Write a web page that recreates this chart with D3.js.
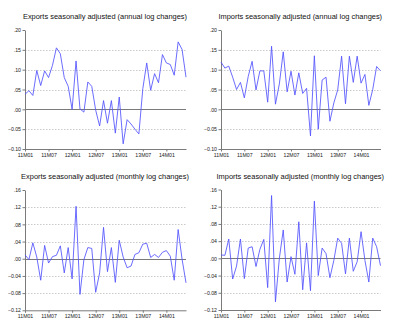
<!DOCTYPE html>
<html>
<head>
<meta charset="utf-8">
<script src="https://cdn.jsdelivr.net/npm/d3@7"></script>
<style>
  body { margin: 0; background: #fff; }
  svg { display: block; }
  text { font-family: "Liberation Sans", Arial, sans-serif; }
</style>
</head>
<body>
<svg id="chart" width="400" height="332"></svg>
<script>
// Monthly periods, 2011M01 .. 2014M06
const periods = [
  "11M01","11M02","11M03","11M04","11M05","11M06","11M07","11M08","11M09","11M10","11M11","11M12",
  "12M01","12M02","12M03","12M04","12M05","12M06","12M07","12M08","12M09","12M10","12M11","12M12",
  "13M01","13M02","13M03","13M04","13M05","13M06","13M07","13M08","13M09","13M10","13M11","13M12",
  "14M01","14M02","14M03","14M04","14M05","14M06"
];
const xTickLabels = ["11M01","11M07","12M01","12M07","13M01","13M07","14M01"];

// Seasonally adjusted log changes
const exportsAnnual = [
  0.038, 0.047, 0.035, 0.098, 0.060, 0.097, 0.080, 0.111, 0.155, 0.140, 0.080, 0.058,
  0.000, 0.122, 0.001, -0.007, 0.069, 0.058, -0.002, -0.042, 0.022, -0.035, 0.022, -0.060,
  0.031, -0.087, -0.026, -0.037, -0.050, -0.062, 0.052, 0.117, 0.048, 0.090, 0.067, 0.138,
  0.117, 0.113, 0.086, 0.170, 0.151, 0.081
];
const importsAnnual = [
  0.119, 0.104, 0.109, 0.081, 0.050, 0.068, 0.029, 0.083, 0.121, 0.049, 0.097, 0.097,
  0.018, 0.159, 0.013, 0.064, 0.145, 0.044, 0.096, 0.036, 0.092, 0.040, 0.053, -0.067,
  0.135, -0.050, 0.074, 0.081, -0.030, 0.016, 0.049, 0.134, 0.014, 0.134, 0.068, 0.134,
  0.066, 0.088, 0.010, 0.050, 0.108, 0.097
];
const exportsMonthly = [
  0.009, -0.002, 0.037, 0.004, -0.050, 0.031, -0.010, 0.005, 0.008, 0.030, -0.033, 0.026,
  -0.047, 0.122, -0.083, -0.002, 0.026, 0.024, -0.078, -0.033, 0.073, -0.030, 0.026, -0.055,
  0.043, 0.004, -0.021, -0.017, 0.010, 0.014, 0.034, 0.036, 0.003, 0.010, 0.003, 0.015,
  0.019, 0.006, -0.050, 0.068, -0.001, -0.056
];
const importsMonthly = [
  0.008, 0.007, 0.045, -0.048, -0.018, 0.045, -0.047, 0.024, 0.027, -0.019, 0.021, 0.044,
  -0.068, 0.146, -0.101, 0.000, 0.066, -0.055, 0.004, -0.037, 0.085, -0.073, 0.036, -0.075,
  0.133, -0.040, 0.024, 0.011, -0.045, -0.005, 0.047, 0.035, -0.036, 0.047, -0.030, -0.008,
  0.062, -0.005, -0.055, 0.047, 0.027, -0.017
];

const annualTicks = [0.20, 0.15, 0.10, 0.05, 0.00, -0.05, -0.10];
const monthlyTicks = [0.16, 0.12, 0.08, 0.04, 0.00, -0.04, -0.08, -0.12];

const svg = d3.select("#chart");

const fmt = v => d3.format(".2f")(v).replace(/^(-?)0\./, "$1.").replace(/^-\.00$/, ".00");

const panels = [
  { title: "Exports seasonally adjusted (annual log changes)", values: exportsAnnual,
    ticks: annualTicks, x0: 25, x1: 186, yTop: 30, yBot: 149, titleY: 18.6, labelY: 157 },
  { title: "Imports seasonally adjusted (annual log changes)", values: importsAnnual,
    ticks: annualTicks, x0: 221, x1: 380.5, yTop: 30, yBot: 149, titleY: 18.6, labelY: 157 },
  { title: "Exports seasonally adjusted (monthly log changes)", values: exportsMonthly,
    ticks: monthlyTicks, x0: 25, x1: 186, yTop: 190, yBot: 310.3, titleY: 179, labelY: 318 },
  { title: "Imports seasonally adjusted (monthly log changes)", values: importsMonthly,
    ticks: monthlyTicks, x0: 221, x1: 380.5, yTop: 189.5, yBot: 310, titleY: 179, labelY: 318 }
];

panels.forEach(p => {
  const g = svg.append("g");
  const x = d3.scalePoint().domain(periods).range([p.x0, p.x1]);
  const y = d3.scaleLinear().domain(d3.extent(p.ticks)).range([p.yBot, p.yTop]);

  // title
  g.append("text")
    .attr("x", (p.x0 + p.x1) / 2 - 0.5)
    .attr("y", p.titleY)
    .attr("text-anchor", "middle")
    .attr("font-size", 7.45)
    .attr("fill", "#111")
    .text(p.title);

  // dotted grid lines
  const top = d3.max(p.ticks), bottom = d3.min(p.ticks);
  g.selectAll("line.grid")
    .data(p.ticks.filter(t => t !== top && t !== bottom && t !== 0))
    .join("line")
    .attr("class", "grid")
    .attr("x1", p.x0).attr("x2", p.x1)
    .attr("y1", d => Math.round(y(d)) + 0.5).attr("y2", d => Math.round(y(d)) + 0.5)
    .attr("stroke", "#bdbdbd")
    .attr("stroke-width", 0.8)
    .attr("stroke-dasharray", "1.5,1.5");

  // zero line
  g.append("line")
    .attr("x1", p.x0).attr("x2", p.x1)
    .attr("y1", Math.round(y(0)) + 0.5).attr("y2", Math.round(y(0)) + 0.5)
    .attr("stroke", "#7a7a7a")
    .attr("stroke-width", 1);

  // y axis
  const yAxis = g.append("g")
    .attr("transform", `translate(${p.x0},0)`)
    .call(d3.axisLeft(y).tickValues(p.ticks).tickFormat(fmt).tickSize(2.5).tickSizeOuter(0).tickPadding(1.5));
  yAxis.select(".domain").attr("stroke", "#7a7a7a");
  yAxis.selectAll(".tick line").attr("stroke", "#7a7a7a");
  yAxis.selectAll(".tick text")
    .attr("font-size", 5.2)
    .attr("font-family", "Liberation Sans, Arial, sans-serif")
    .attr("fill", "#222");

  // x axis
  const xAxis = g.append("g")
    .attr("transform", `translate(0,${p.yBot})`)
    .call(d3.axisBottom(x).tickValues(xTickLabels).tickSize(2.5).tickSizeOuter(0).tickPadding(2));
  xAxis.select(".domain").attr("stroke", "#7a7a7a");
  xAxis.selectAll(".tick line").attr("stroke", "#7a7a7a");
  xAxis.selectAll(".tick text")
    .attr("font-size", 5.2)
    .attr("font-family", "Liberation Sans, Arial, sans-serif")
    .attr("fill", "#222");

  // series line
  const line = d3.line()
    .x((d, i) => x(periods[i]))
    .y(d => y(d));
  g.append("path")
    .datum(p.values)
    .attr("d", line)
    .attr("fill", "none")
    .attr("stroke", "#5252ff")
    .attr("stroke-width", 0.85)
    .attr("stroke-linejoin", "round");
});
</script>
</body>
</html>
